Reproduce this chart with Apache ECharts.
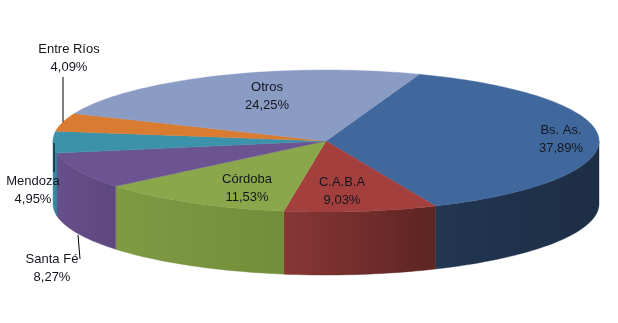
<!DOCTYPE html>
<html>
<head>
<meta charset="utf-8">
<script src="https://cdn.jsdelivr.net/npm/echarts@6/dist/echarts.min.js"></script>
<style>
  html, body { margin: 0; padding: 0; background: #fff; }
  #chart { width: 618px; height: 323px; }
</style>
</head>
<body>
<div id="chart"></div>
<script>
// Provincial shares (%)
const categories = ['Bs. As.', 'C.A.B.A', 'Córdoba', 'Santa Fé', 'Mendoza', 'Entre Ríos', 'Otros'];
const shares = [37.89, 9.03, 11.53, 8.27, 4.95, 4.09, 24.25];

// Face colours (top) and wall colours (side, left -> right shading)
const topColors  = ['#41689c', '#a3403d', '#8aa84b', '#6b5491', '#3b92aa', '#d97c31', '#8a9bc4'];
const sideColors = [['#223652', '#1d2d44'], ['#883735', '#5c2422'], ['#7e9a43', '#738e3a'],
                    ['#674f8b', '#5e487f'], ['#3a8ca3', '#34829b'], ['#c06a28', '#b06024'], ['#7a8ab0', '#6e7ea2']];

// Label placement: [x, y] of label centre, optional leader line [x1, y1, x2, y2]
const labelLayout = {
  'Bs. As.':    { at: [561, 139] },
  'C.A.B.A':    { at: [342, 191] },
  'Córdoba':    { at: [247, 188] },
  'Santa Fé':   { at: [52, 268], leader: [78, 235, 80, 259] },
  'Mendoza':    { at: [33, 190], leader: [54, 143, 54, 172] },
  'Entre Ríos': { at: [69, 58],  leader: [63, 77, 63, 122] },
  'Otros':      { at: [267, 96] }
};

// 3D pie geometry
const pie = { cx: 326, cy: 141, rx: 273, ry: 71, depth: 63, startDeg: -70 };

const total = shares.reduce((a, b) => a + b, 0);
const slices = [];
let acc = pie.startDeg;
shares.forEach((v) => {
  const span = v / total * 360;
  slices.push({ a0: acc, a1: acc + span });
  acc += span;
});

function pt(deg, dy) {
  const r = deg * Math.PI / 180;
  return [pie.cx + pie.rx * Math.cos(r), pie.cy + pie.ry * Math.sin(r) + (dy || 0)];
}
function arc(a0, a1, dy) {
  const pts = [];
  const n = Math.max(2, Math.ceil(Math.abs(a1 - a0) / 1.5));
  for (let k = 0; k <= n; k++) pts.push(pt(a0 + (a1 - a0) * k / n, dy));
  return pts;
}

const seriesData = shares.map((v, i) => ({ name: categories[i], value: v }));

// Visible outer wall of a slice (front half of the ellipse only)
function renderWall(params, api) {
  const i = params.dataIndex;
  const s = slices[i];
  const lo = Math.max(s.a0, 0), hi = Math.min(s.a1, 180);
  if (hi <= lo) return { type: 'group', children: [] };
  const top = arc(lo, hi, 0);
  const bottom = arc(hi, lo, pie.depth);
  return {
    type: 'polygon',
    shape: { points: top.concat(bottom) },
    style: {
      fill: new echarts.graphic.LinearGradient(0, 0, 1, 0, [
        { offset: 0, color: sideColors[i][0] },
        { offset: 1, color: sideColors[i][1] }
      ]),
      stroke: sideColors[i][1], lineWidth: 0.4
    }
  };
}

// Top face of a slice
function renderTop(params, api) {
  const i = params.dataIndex;
  const s = slices[i];
  const pts = [[pie.cx, pie.cy]].concat(arc(s.a0, s.a1, 0));
  return {
    type: 'polygon',
    shape: { points: pts },
    style: { fill: topColors[i], stroke: topColors[i], lineWidth: 0.4 }
  };
}

function renderLabel(params, api) {
  const i = params.dataIndex;
  const name = categories[i];
  const lay = labelLayout[name];
  const pct = api.value(0).toFixed(2).replace('.', ',') + '%';
  const children = [{
    type: 'text',
    x: lay.at[0], y: lay.at[1],
    style: {
      text: name + '\n' + pct,
      fill: '#14161e', font: '13px "Liberation Sans", Arial, sans-serif',
      align: 'center', verticalAlign: 'middle', lineHeight: 18
    }
  }];
  if (lay.leader) {
    const l = lay.leader;
    children.push({
      type: 'line',
      shape: { x1: l[0], y1: l[1], x2: l[2], y2: l[3] },
      style: { stroke: '#000', lineWidth: 1 }
    });
  }
  return { type: 'group', children };
}

const chart = echarts.init(document.getElementById('chart'), null, { renderer: 'canvas' });
chart.setOption({
  animation: false,
  backgroundColor: '#fff',
  series: [
    { type: 'custom', coordinateSystem: 'none', z: 1, data: seriesData, renderItem: renderWall },
    { type: 'custom', coordinateSystem: 'none', z: 2, data: seriesData, renderItem: renderTop },
    { type: 'custom', coordinateSystem: 'none', z: 3, data: seriesData, renderItem: renderLabel }
  ]
});
</script>
</body>
</html>
